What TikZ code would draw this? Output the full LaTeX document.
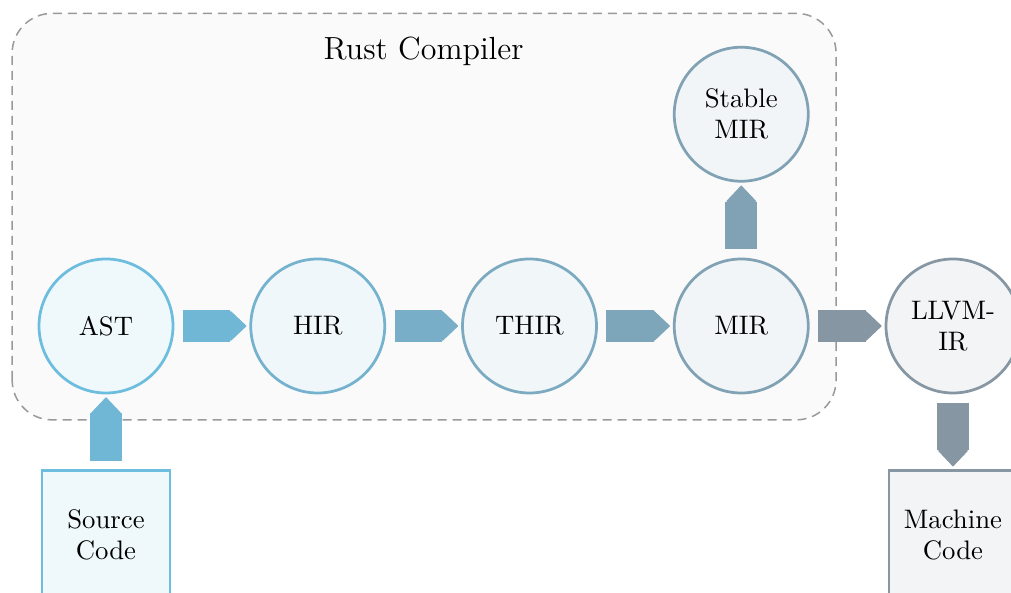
\documentclass[tikz,border=0pt]{standalone}
\usetikzlibrary{positioning,calc,arrows.meta,backgrounds}
\definecolor{astblue}{RGB}{108,189,222}
\definecolor{hirblue}{RGB}{116,178,206}
\definecolor{thirblue}{RGB}{124,170,192}
\definecolor{mirgrey}{RGB}{128,162,180}
\definecolor{llvmgrey}{RGB}{134,151,163}
\begin{document}
\begin{tikzpicture}[node distance=30pt, font=\fontsize{10.7}{12.4}\selectfont,
    stage/.style={circle, draw=#1, fill=#1!11, line width=1.1pt, minimum size=53.6pt, inner sep=0pt, align=center},
    artifact/.style={rectangle, draw=#1, fill=#1!11, line width=1.1pt, minimum size=51.2pt, inner sep=0pt, align=center},
    pass/.style={draw=#1, line width=12.8pt, shorten <=3.4pt, shorten >=1.2pt,
                 -{Triangle[round, line width=0.5pt, length=6.6pt, width=12.4pt]}}]
\useasboundingbox (-42.4pt,-106.8pt) rectangle (362pt,130.4pt);
\clip (-42.4pt,-106.8pt) rectangle (362pt,130.4pt);
\node[stage=astblue]  (ast)  at (0,0)          {AST};
\node[stage=hirblue]  (hir)  [right=of ast]  {HIR};
\node[stage=thirblue] (thir) [right=of hir]  {THIR};
\node[stage=mirgrey]  (mir)  [right=of thir] {MIR};
\node[stage=mirgrey]  (smir) [above=of mir]  {Stable\\MIR};
\node[stage=llvmgrey] (llvm) [right=of mir]  {LLVM-\\IR};
\node[artifact=astblue]  (src)  [below=of ast]  {Source\\Code};
\node[artifact=llvmgrey] (mach) [below=of llvm] {Machine\\Code};
\coordinate (mid) at ($(ast)!0.5!(mir)$);
\begin{scope}[on background layer]
  \draw[gray!80, fill=black!2, line width=0.6pt, dash pattern=on 3.6pt off 2.4pt, rounded corners=16pt]
    ($(ast.west |- ast.south)+(-10.2pt,-10.2pt)$) rectangle ($(mir.east |- smir.north)+(10.6pt,13pt)$);
\end{scope}
\node[font=\fontsize{12.8}{15}\selectfont, yshift=-2.2pt] (title) at (mid |- smir.north) {Rust Compiler};
\draw[pass=astblue!50!hirblue]   (ast)  -- (hir);
\draw[pass=hirblue!50!thirblue]  (hir)  -- (thir);
\draw[pass=thirblue!50!mirgrey]  (thir) -- (mir);
\draw[pass=llvmgrey]             (mir)  -- (llvm);
\draw[pass=mirgrey]              (mir)  -- (smir);
\draw[pass=astblue!50!hirblue]   (src)  -- (ast);
\draw[pass=llvmgrey]             (llvm) -- (mach);
\end{tikzpicture}
\end{document}
